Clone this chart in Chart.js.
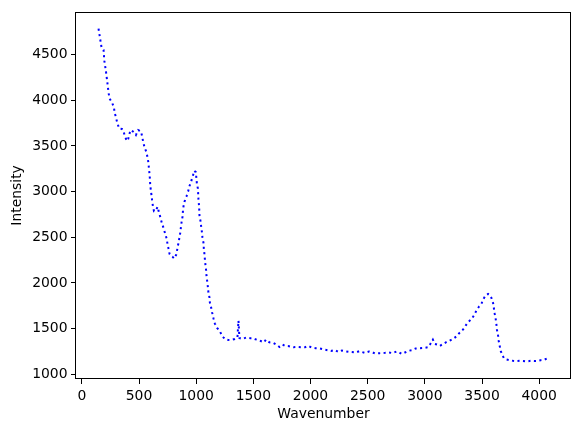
<!DOCTYPE html>
<html>
<head>
<meta charset="utf-8">
<script src="https://cdn.jsdelivr.net/npm/chart.js@4/dist/chart.umd.min.js"></script>
<style>
  html, body { margin: 0; padding: 0; background: #fff; }
  canvas { display: block; }
</style>
</head>
<body>
<canvas id="chart" width="580" height="432"></canvas>
<script>
// values
const wavenumber = [
    146, 159, 173, 190, 197, 211, 223, 234, 243, 266, 281, 290, 313, 328, 351, 365, 377, 395, 406, 415,
    430, 459, 473, 493, 517, 528, 537, 548, 566, 575, 583, 587, 592, 596, 598, 604, 610, 616, 622, 631,
    648, 662, 674, 688, 700, 714, 727, 741, 749, 758, 767, 779, 793, 808, 825, 834, 843, 852, 860, 866,
    872, 880, 884, 889, 898, 915, 930, 941, 956, 971, 983, 997, 1006, 1015, 1020, 1026, 1029, 1038, 1044, 1050,
    1055, 1064, 1067, 1072, 1076, 1081, 1087, 1090, 1096, 1102, 1107, 1116, 1120, 1131, 1140, 1151, 1163, 1183, 1204, 1224,
    1238, 1253, 1280, 1317, 1338, 1361, 1370, 1378, 1404, 1437, 1474, 1495, 1518, 1550, 1574, 1594, 1609, 1640, 1675, 1705,
    1728, 1754, 1777, 1812, 1850, 1888, 1923, 1952, 1981, 2010, 2045, 2083, 2118, 2150, 2179, 2214, 2243, 2273, 2301, 2339,
    2397, 2426, 2476, 2511, 2534, 2563, 2607, 2651, 2686, 2718, 2753, 2776, 2796, 2819, 2854, 2884, 2919, 2956, 2991, 3029,
    3050, 3070, 3087, 3107, 3131, 3160, 3190, 3218, 3247, 3277, 3297, 3320, 3335, 3358, 3378, 3408, 3431, 3451, 3474, 3495,
    3509, 3530, 3553, 3568, 3582, 3597, 3611, 3620, 3626, 3631, 3640, 3646, 3655, 3664, 3679, 3693, 3714, 3742, 3771, 3801,
    3830, 3858, 3888, 3926, 3955, 3984, 4013, 4042, 4081
];
const intensity = [
    4783, 4680, 4572, 4550, 4430, 4315, 4196, 4079, 4017, 3971, 3913, 3851, 3739, 3688, 3685, 3659, 3601, 3554, 3576, 3630,
    3674, 3645, 3620, 3674, 3659, 3601, 3541, 3485, 3427, 3370, 3311, 3250, 3191, 3130, 3072, 3011, 2952, 2891, 2837, 2786,
    2793, 2833, 2775, 2713, 2655, 2604, 2547, 2489, 2430, 2376, 2318, 2297, 2286, 2267, 2308, 2365, 2424, 2485, 2543, 2604,
    2663, 2721, 2783, 2837, 2891, 2946, 3003, 3058, 3112, 3170, 3228, 3213, 3090, 3033, 2913, 2830, 2735, 2677, 2615, 2558,
    2496, 2438, 2376, 2318, 2261, 2199, 2137, 2079, 2022, 1960, 1898, 1843, 1783, 1732, 1674, 1615, 1558, 1507, 1478, 1430,
    1405, 1384, 1376, 1380, 1387, 1405, 1587, 1398, 1387, 1402, 1395, 1395, 1384, 1373, 1359, 1351, 1380, 1351, 1343, 1322,
    1300, 1326, 1311, 1308, 1297, 1300, 1297, 1297, 1311, 1293, 1286, 1283, 1272, 1264, 1257, 1267, 1246, 1261, 1253, 1246,
    1239, 1253, 1235, 1250, 1246, 1228, 1232, 1235, 1239, 1232, 1250, 1239, 1224, 1235, 1257, 1264, 1283, 1286, 1289, 1297,
    1337, 1380, 1333, 1326, 1311, 1333, 1354, 1370, 1388, 1416, 1446, 1474, 1492, 1536, 1572, 1604, 1648, 1699, 1742, 1772,
    1818, 1862, 1880, 1870, 1837, 1778, 1663, 1601, 1543, 1482, 1427, 1365, 1308, 1253, 1207, 1174, 1163, 1155, 1148, 1145,
    1148, 1145, 1141, 1148, 1145, 1148, 1155, 1159, 1180
];
const xTicks = [0, 500, 1000, 1500, 2000, 2500, 3000, 3500, 4000];
const yTicks = [1000, 1500, 2000, 2500, 3000, 3500, 4000, 4500];

const points = wavenumber.map((x, i) => ({ x, y: intensity[i] }));

const font = { family: 'DejaVu Sans', size: 13.9 };

// matplotlib-like frame round the plot area
const frame = {
    id: 'frame',
    afterDraw(chart) {
        const a = chart.chartArea;
        const ctx = chart.ctx;
        ctx.save();
        ctx.strokeStyle = '#000';
        ctx.lineWidth = 1;
        const l = Math.round(a.left) - 0.5, t = Math.round(a.top) + 0.5;
        const r = Math.round(a.right) - 0.5, b = Math.round(a.bottom) - 0.5;
        ctx.strokeRect(l, t, r - l, b - t);
        ctx.restore();
    }
};

function tickAxis(ticks, title) {
    return {
        type: 'linear',
        afterBuildTicks: scale => { scale.ticks = ticks.map(value => ({ value })); },
        grid: { drawOnChartArea: false, tickLength: 5, color: '#000', lineWidth: 1 },
        border: { display: false },
        ticks: {
            color: '#000', font, padding: 3.5, maxRotation: 0, autoSkip: false,
            callback: v => String(v)
        },
        title: { display: true, text: title, color: '#000', font }
    };
}

const xAxis = tickAxis(xTicks, 'Wavenumber');
xAxis.min = -51;
xAxis.max = 4278;
xAxis.ticks.padding = 4;
xAxis.title.padding = { top: 2, bottom: 9 };
xAxis.afterFit = scale => { scale.height = 53; };

const yAxis = tickAxis(yTicks, 'Intensity');
yAxis.min = 949;
yAxis.max = 4967;
yAxis.title.padding = { top: 9, bottom: 4 };
yAxis.afterFit = scale => { scale.width = 76; };

new Chart(document.getElementById('chart'), {
    type: 'line',
    data: {
        datasets: [{
            data: points,
            borderColor: '#0000ff',
            borderWidth: 2,
            borderDash: [2.1, 3.4],
            pointRadius: 0,
            tension: 0,
            fill: false
        }]
    },
    options: {
        responsive: false,
        animation: false,
        maintainAspectRatio: false,
        layout: { padding: { left: 0, right: 9, top: 9, bottom: 0 } },
        plugins: {
            legend: { display: false },
            tooltip: { enabled: false }
        },
        scales: { x: xAxis, y: yAxis }
    },
    plugins: [frame]
});
</script>
</body>
</html>
